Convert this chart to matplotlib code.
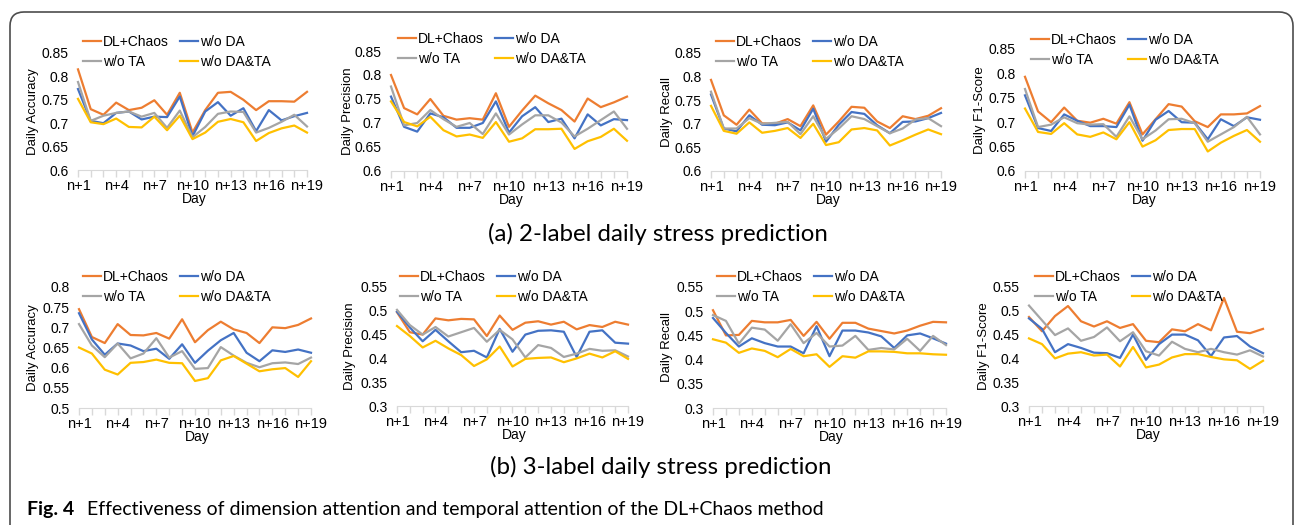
import matplotlib
matplotlib.use("Agg")
import matplotlib.pyplot as plt
from matplotlib.patches import FancyBboxPatch
from matplotlib.transforms import IdentityTransform

W, H = 1296, 525

day_labels = ["n+%d" % i for i in range(1, 20)]
series_names = ["DL+Chaos", "w/o DA", "w/o TA", "w/o DA&TA"]
colors = ["#ED7D31", "#4472C4", "#A5A5A5", "#FFC000"]

# ---- (a) 2-label ----
acc2_chaos = [0.815, 0.730, 0.718, 0.744, 0.728, 0.733, 0.749, 0.718, 0.765, 0.680, 0.728, 0.765, 0.767, 0.750, 0.728, 0.747, 0.747, 0.746, 0.767]
acc2_noda = [0.773, 0.705, 0.700, 0.722, 0.725, 0.708, 0.714, 0.713, 0.757, 0.672, 0.725, 0.745, 0.716, 0.732, 0.683, 0.728, 0.706, 0.715, 0.722]
acc2_nota = [0.788, 0.705, 0.716, 0.722, 0.725, 0.714, 0.722, 0.690, 0.727, 0.670, 0.692, 0.720, 0.725, 0.724, 0.680, 0.690, 0.703, 0.718, 0.693]
acc2_none = [0.752, 0.702, 0.698, 0.710, 0.692, 0.691, 0.714, 0.685, 0.716, 0.666, 0.680, 0.703, 0.709, 0.702, 0.662, 0.679, 0.689, 0.695, 0.680]

pre2_chaos = [0.800, 0.731, 0.718, 0.750, 0.715, 0.707, 0.710, 0.707, 0.762, 0.692, 0.726, 0.757, 0.741, 0.727, 0.703, 0.751, 0.733, 0.743, 0.755]
pre2_noda = [0.755, 0.692, 0.682, 0.720, 0.712, 0.690, 0.690, 0.700, 0.745, 0.680, 0.714, 0.733, 0.702, 0.709, 0.668, 0.718, 0.695, 0.708, 0.706]
pre2_nota = [0.776, 0.695, 0.700, 0.727, 0.708, 0.692, 0.700, 0.677, 0.720, 0.676, 0.697, 0.716, 0.716, 0.701, 0.672, 0.688, 0.706, 0.724, 0.688]
pre2_none = [0.745, 0.702, 0.693, 0.713, 0.685, 0.672, 0.676, 0.669, 0.702, 0.661, 0.668, 0.687, 0.687, 0.688, 0.646, 0.662, 0.671, 0.688, 0.663]

rec2_chaos = [0.793, 0.718, 0.698, 0.730, 0.701, 0.700, 0.710, 0.695, 0.739, 0.677, 0.705, 0.736, 0.734, 0.705, 0.691, 0.716, 0.710, 0.717, 0.733]
rec2_noda = [0.762, 0.690, 0.684, 0.718, 0.698, 0.697, 0.703, 0.686, 0.732, 0.662, 0.698, 0.725, 0.721, 0.697, 0.680, 0.704, 0.705, 0.712, 0.723]
rec2_nota = [0.768, 0.690, 0.690, 0.712, 0.700, 0.702, 0.704, 0.678, 0.716, 0.668, 0.690, 0.716, 0.710, 0.695, 0.680, 0.690, 0.709, 0.712, 0.695]
rec2_none = [0.738, 0.685, 0.679, 0.703, 0.681, 0.685, 0.691, 0.670, 0.700, 0.655, 0.661, 0.688, 0.691, 0.686, 0.654, 0.665, 0.677, 0.688, 0.678]

f12_chaos = [0.793, 0.722, 0.700, 0.730, 0.703, 0.699, 0.707, 0.697, 0.741, 0.675, 0.706, 0.737, 0.732, 0.702, 0.690, 0.716, 0.716, 0.718, 0.733]
f12_noda = [0.755, 0.688, 0.682, 0.716, 0.703, 0.692, 0.692, 0.690, 0.736, 0.662, 0.705, 0.723, 0.700, 0.699, 0.665, 0.706, 0.692, 0.710, 0.705]
f12_nota = [0.768, 0.690, 0.695, 0.710, 0.698, 0.695, 0.696, 0.670, 0.712, 0.665, 0.683, 0.706, 0.707, 0.698, 0.660, 0.675, 0.690, 0.711, 0.675]
f12_none = [0.728, 0.680, 0.676, 0.698, 0.675, 0.670, 0.679, 0.665, 0.700, 0.650, 0.663, 0.684, 0.686, 0.686, 0.640, 0.658, 0.672, 0.684, 0.660]

# ---- (b) 3-label ----
acc3_chaos = [0.745, 0.676, 0.661, 0.708, 0.681, 0.680, 0.686, 0.672, 0.720, 0.663, 0.693, 0.714, 0.695, 0.686, 0.661, 0.700, 0.698, 0.706, 0.722]
acc3_noda = [0.735, 0.670, 0.632, 0.660, 0.655, 0.641, 0.647, 0.622, 0.658, 0.612, 0.642, 0.668, 0.686, 0.637, 0.616, 0.643, 0.639, 0.645, 0.637]
acc3_nota = [0.708, 0.655, 0.626, 0.660, 0.623, 0.635, 0.673, 0.625, 0.641, 0.597, 0.599, 0.651, 0.630, 0.612, 0.601, 0.611, 0.613, 0.609, 0.625]
acc3_none = [0.650, 0.635, 0.595, 0.583, 0.612, 0.614, 0.620, 0.612, 0.611, 0.567, 0.574, 0.618, 0.629, 0.610, 0.591, 0.596, 0.599, 0.577, 0.616]

pre3_chaos = [0.497, 0.455, 0.450, 0.484, 0.480, 0.483, 0.482, 0.447, 0.490, 0.460, 0.475, 0.478, 0.471, 0.477, 0.461, 0.470, 0.466, 0.477, 0.471]
pre3_noda = [0.498, 0.465, 0.436, 0.460, 0.436, 0.413, 0.416, 0.402, 0.462, 0.414, 0.450, 0.458, 0.459, 0.456, 0.403, 0.456, 0.459, 0.433, 0.431]
pre3_nota = [0.502, 0.470, 0.450, 0.466, 0.446, 0.455, 0.464, 0.435, 0.460, 0.440, 0.402, 0.428, 0.422, 0.403, 0.410, 0.420, 0.416, 0.417, 0.404]
pre3_none = [0.468, 0.447, 0.423, 0.437, 0.421, 0.407, 0.384, 0.398, 0.425, 0.383, 0.399, 0.401, 0.402, 0.392, 0.400, 0.410, 0.402, 0.415, 0.399]

rec3_chaos = [0.502, 0.450, 0.451, 0.480, 0.477, 0.477, 0.482, 0.449, 0.478, 0.443, 0.476, 0.476, 0.464, 0.459, 0.454, 0.460, 0.470, 0.478, 0.477]
rec3_noda = [0.486, 0.455, 0.427, 0.444, 0.434, 0.427, 0.427, 0.413, 0.469, 0.407, 0.460, 0.460, 0.456, 0.448, 0.424, 0.450, 0.454, 0.444, 0.433]
rec3_nota = [0.492, 0.480, 0.433, 0.466, 0.462, 0.439, 0.473, 0.434, 0.455, 0.427, 0.429, 0.449, 0.420, 0.424, 0.421, 0.443, 0.418, 0.449, 0.430]
rec3_none = [0.442, 0.435, 0.414, 0.423, 0.418, 0.405, 0.422, 0.407, 0.411, 0.385, 0.407, 0.404, 0.417, 0.417, 0.416, 0.413, 0.413, 0.411, 0.410]

f13_chaos = [0.487, 0.457, 0.489, 0.510, 0.478, 0.467, 0.478, 0.464, 0.472, 0.437, 0.434, 0.461, 0.457, 0.472, 0.459, 0.527, 0.456, 0.453, 0.462]
f13_noda = [0.484, 0.462, 0.413, 0.430, 0.422, 0.412, 0.411, 0.401, 0.450, 0.397, 0.430, 0.450, 0.450, 0.438, 0.405, 0.444, 0.447, 0.425, 0.411]
f13_nota = [0.511, 0.480, 0.449, 0.463, 0.437, 0.445, 0.465, 0.436, 0.455, 0.415, 0.406, 0.435, 0.420, 0.413, 0.420, 0.413, 0.408, 0.417, 0.404]
f13_none = [0.442, 0.430, 0.400, 0.410, 0.413, 0.406, 0.408, 0.383, 0.424, 0.381, 0.387, 0.402, 0.409, 0.409, 0.403, 0.398, 0.396, 0.378, 0.395]

yticks_top = [0.6, 0.65, 0.7, 0.75, 0.8, 0.85]
yticks_acc3 = [0.5, 0.55, 0.6, 0.65, 0.7, 0.75, 0.8]
yticks_low = [0.3, 0.35, 0.4, 0.45, 0.5, 0.55]

# panel: ylabel, yticks, series, axes box in px (left, top, right, bottom), legend top-left px, ylabel x px
panels = [
    ("Daily Accuracy", yticks_top, [acc2_chaos, acc2_noda, acc2_nota, acc2_none], (78, 53, 307, 170), (83, 35), 33),
    ("Daily Precision", yticks_top, [pre2_chaos, pre2_noda, pre2_nota, pre2_none], (391, 51, 627, 171), (398, 32), 348),
    ("Daily Recall", yticks_top, [rec2_chaos, rec2_noda, rec2_nota, rec2_none], (711, 53, 941, 171), (716, 35), 667),
    ("Daily F1-Score", yticks_top, [f12_chaos, f12_noda, f12_nota, f12_none], (1025, 49, 1260, 171), (1031, 33), 980),
    ("Daily Accuracy", yticks_acc3, [acc3_chaos, acc3_noda, acc3_nota, acc3_none], (79, 287, 311, 408), (83, 270), 33),
    ("Daily Precision", yticks_low, [pre3_chaos, pre3_noda, pre3_nota, pre3_none], (397, 287, 628, 406), (400, 270), 350),
    ("Daily Recall", yticks_low, [rec3_chaos, rec3_noda, rec3_nota, rec3_none], (713, 287, 946, 408), (717, 270), 667),
    ("Daily F1-Score", yticks_low, [f13_chaos, f13_noda, f13_nota, f13_none], (1029, 287, 1263, 406), (1035, 270), 984),
]

plt.rcParams["font.family"] = ["Liberation Sans", "DejaVu Sans"]
fig = plt.figure(figsize=(W / 100, H / 100), dpi=100)

# outer rounded frame
frame = FancyBboxPatch((10, -20), 1283, H - 12 + 20, boxstyle="round,pad=0,rounding_size=14",
                       transform=IdentityTransform(), fill=False, ec="#4d4d4d", lw=1.2)
fig.patches.append(frame)

fs = 10
grid_c = "#D9D9D9"
for ylabel, yt, data, box, leg, ylx in panels:
    l, t, r, b = box
    ax = fig.add_axes([l / W, 1 - b / H, (r - l) / W, (b - t) / H])
    x = list(range(len(day_labels)))
    lines = []
    for vals, c, name in zip(data, colors, series_names):
        ln, = ax.plot(x, vals, color=c, lw=1.6, label=name, solid_joinstyle="round", clip_on=False)
        lines.append(ln)
    ax.set_xlim(0, len(day_labels) - 1)
    ax.set_ylim(yt[0], yt[-1])
    ax.set_yticks(yt)
    ax.set_yticklabels(["%g" % v for v in yt], fontsize=fs)
    ax.set_xticks(x[::3])
    ax.set_xticklabels(day_labels[::3], fontsize=10.5)
    ax.set_xticks(x, minor=True)
    ax.tick_params(axis="y", length=0, pad=7)
    ax.tick_params(axis="x", which="both", length=5, color=grid_c, width=1, pad=1.5)
    for s in ["top", "right", "left"]:
        ax.spines[s].set_visible(False)
    ax.spines["bottom"].set_color(grid_c)
    ax.patch.set_alpha(0)

    fig.text(ylx / W, 1 - ((t + b) / 2) / H, ylabel, rotation=90, ha="center", va="center", fontsize=9.5)
    fig.text(((l + r) / 2 + 2) / W, 1 - (b + 29) / H, "Day", ha="center", va="center", fontsize=fs)

    order = [0, 2, 1, 3]
    fig.legend([lines[i] for i in order], [series_names[i] for i in order],
               loc="upper left", bbox_to_anchor=(leg[0] / W, 1 - leg[1] / H), ncol=2,
               frameon=False, fontsize=fs, handlelength=1.3, handletextpad=0.15,
               columnspacing=0.8, labelspacing=0.45, borderpad=0, borderaxespad=0)

cap_font = ["Lato", "DejaVu Sans"]
fig.text(658 / W, 1 - 234 / H, "(a) 2-label daily stress prediction", ha="center", va="center",
         fontsize=17.3, family=cap_font)
fig.text(661 / W, 1 - 467 / H, "(b) 3-label daily stress prediction", ha="center", va="center",
         fontsize=17.3, family=cap_font)
fig.text(27 / W, 1 - 515 / H, "Fig. 4", ha="left", va="baseline", fontsize=14, fontweight="bold",
         family=cap_font)
fig.text(87 / W, 1 - 515 / H,
         "Effectiveness of dimension attention and temporal attention of the DL+Chaos method",
         ha="left", va="baseline", fontsize=14, family=cap_font)

fig.savefig("out.png", dpi=100)
